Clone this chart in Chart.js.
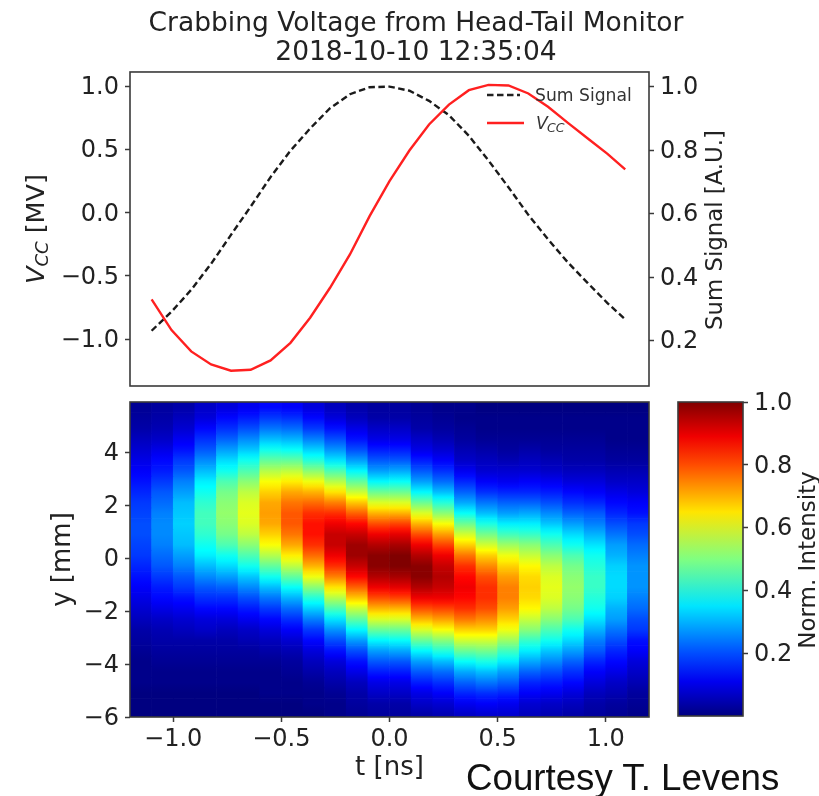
<!DOCTYPE html>
<html><head><meta charset="utf-8">
<style>
html,body{margin:0;padding:0;background:#fff;width:819px;height:796px;overflow:hidden}
.layer{position:absolute;left:0;top:0;width:819px;height:796px}
canvas{position:absolute;left:0;top:0;filter:blur(0.45px)}
#courtesy{position:absolute;left:466px;top:758px;font:36.7px "Liberation Sans",Arial,sans-serif;color:#111;white-space:nowrap;line-height:40px}
</style>
<script src="https://cdn.jsdelivr.net/npm/chart.js@4/dist/chart.umd.min.js"></script>
</head><body>
<div class="layer"><canvas id="top" width="819" height="796"></canvas></div>
<div class="layer"><canvas id="heat" width="819" height="796"></canvas></div>
<div class="layer"><canvas id="bar" width="819" height="796"></canvas></div>
<div id="courtesy">Courtesy T. Levens</div>
<script>
const titleLines=["Crabbing Voltage from Head-Tail Monitor","2018-10-10 12:35:04"];
const lineTimes=[-1.1,-1.008,-0.917,-0.825,-0.733,-0.642,-0.55,-0.458,-0.367,-0.275,-0.183,-0.092,0,0.092,0.183,0.275,0.367,0.458,0.55,0.642,0.733,0.825,0.917,1.008,1.09];
const vccValues=[-0.686,-0.929,-1.098,-1.201,-1.251,-1.243,-1.169,-1.03,-0.831,-0.594,-0.33,-0.027,0.25,0.493,0.699,0.857,0.971,1.013,1.008,0.945,0.839,0.712,0.588,0.467,0.343];
const sumValues=[0.231,0.291,0.36,0.442,0.533,0.622,0.715,0.798,0.868,0.932,0.976,0.998,1.0,0.987,0.955,0.91,0.845,0.767,0.683,0.596,0.519,0.446,0.381,0.318,0.267];
const vccTicks=[-1,-0.5,0,0.5,1];
const sumTicks=[0.2,0.4,0.6,0.8,1];
const timeTicks=[-1,-0.5,0,0.5,1];
const yTicks=[-6,-4,-2,0,2,4];
const cbTicks=[0.2,0.4,0.6,0.8,1];
const cellTimes=[-1.15,-1.05,-0.95,-0.85,-0.75,-0.65,-0.55,-0.45,-0.35,-0.25,-0.15,-0.05,0.05,0.15,0.25,0.35,0.45,0.55,0.65,0.75,0.85,0.95,1.05,1.15];
const cellRows=[5.7,5.3,4.9,4.5,4.1,3.7,3.3,2.9,2.5,2.1,1.7,1.3,0.9,0.5,0.1,-0.3,-0.7,-1.1,-1.5,-1.9,-2.3,-2.7,-3.1,-3.5,-3.9,-4.3,-4.7,-5.1,-5.5,-5.9];
const intensityByTime=[
[.02,.03,.04,.06,.08,.10,.12,.14,.16,.18,.19,.20,.20,.19,.18,.16,.14,.12,.10,.08,.06,.04,.03,.02,.01,.01,.01,0,0,0],
[.03,.04,.05,.07,.10,.13,.15,.18,.21,.23,.25,.26,.26,.25,.23,.21,.18,.15,.13,.10,.07,.05,.04,.03,.02,.01,.01,0,0,0],
[.04,.06,.08,.11,.14,.18,.21,.25,.28,.31,.32,.33,.32,.31,.28,.25,.21,.18,.14,.11,.08,.06,.04,.03,.02,.01,.01,0,0,0],
[.07,.09,.13,.17,.21,.26,.31,.36,.39,.42,.44,.44,.42,.39,.36,.31,.26,.21,.17,.13,.09,.07,.04,.03,.02,.01,.01,0,0,0],
[.09,.13,.17,.22,.28,.34,.39,.45,.49,.51,.52,.51,.49,.45,.39,.34,.28,.22,.17,.13,.09,.06,.04,.03,.02,.01,.01,0,0,0],
[.11,.15,.20,.26,.32,.39,.45,.51,.56,.59,.60,.59,.56,.51,.45,.39,.32,.26,.20,.15,.11,.07,.05,.03,.02,.01,.01,0,0,0],
[.13,.18,.24,.31,.39,.47,.55,.62,.67,.71,.72,.71,.67,.62,.55,.47,.39,.31,.24,.18,.13,.09,.06,.04,.02,.01,.01,.01,0,0],
[.12,.17,.23,.30,.38,.47,.56,.64,.71,.76,.79,.79,.76,.71,.64,.56,.47,.38,.30,.23,.17,.12,.08,.05,.03,.02,.01,.01,0,0],
[.09,.13,.18,.25,.33,.41,.51,.61,.70,.77,.83,.86,.86,.83,.77,.70,.61,.51,.41,.33,.25,.18,.13,.09,.06,.04,.02,.01,.01,0],
[.06,.09,.14,.20,.27,.35,.45,.55,.65,.75,.83,.89,.93,.93,.89,.83,.75,.65,.55,.45,.35,.27,.20,.14,.09,.06,.04,.02,.01,.01],
[.04,.06,.10,.14,.20,.28,.37,.47,.57,.68,.78,.87,.93,.97,.97,.93,.87,.78,.68,.57,.47,.37,.28,.20,.14,.10,.06,.04,.03,.02],
[.03,.04,.07,.10,.15,.21,.28,.37,.48,.59,.70,.80,.89,.95,.99,.99,.95,.89,.80,.70,.59,.48,.37,.28,.21,.15,.10,.07,.04,.03],
[.03,.04,.07,.10,.15,.21,.29,.38,.48,.59,.70,.81,.90,.96,1.0,1.0,.96,.90,.81,.70,.59,.48,.38,.29,.21,.15,.10,.07,.04,.03],
[.02,.03,.04,.07,.10,.15,.21,.28,.37,.48,.59,.70,.80,.89,.95,.99,.99,.95,.89,.80,.70,.59,.48,.37,.28,.21,.15,.10,.07,.04],
[.01,.02,.03,.05,.08,.12,.17,.23,.31,.41,.51,.62,.72,.81,.89,.93,.95,.93,.89,.81,.72,.62,.51,.41,.31,.23,.17,.12,.08,.05],
[.01,.01,.02,.03,.05,.07,.11,.16,.22,.29,.38,.48,.58,.67,.76,.83,.87,.89,.87,.83,.76,.67,.58,.48,.38,.29,.22,.16,.11,.07],
[0,.01,.01,.02,.04,.06,.08,.12,.17,.24,.31,.40,.49,.58,.67,.74,.80,.83,.83,.80,.74,.67,.58,.49,.40,.31,.24,.17,.12,.08],
[0,.01,.01,.02,.03,.05,.08,.11,.16,.22,.28,.36,.44,.53,.61,.67,.72,.75,.75,.72,.67,.61,.53,.44,.36,.28,.22,.16,.11,.08],
[0,.01,.01,.02,.04,.06,.08,.12,.16,.22,.29,.36,.43,.51,.57,.63,.66,.67,.66,.63,.57,.51,.43,.36,.29,.22,.16,.12,.08,.06],
[0,.01,.01,.02,.03,.05,.07,.11,.15,.20,.26,.32,.39,.45,.51,.56,.59,.60,.59,.56,.51,.45,.39,.32,.26,.20,.15,.11,.07,.05],
[0,.01,.01,.02,.03,.04,.06,.09,.13,.17,.22,.28,.34,.39,.45,.49,.51,.52,.51,.49,.45,.39,.34,.28,.22,.17,.13,.09,.06,.04],
[0,.01,.01,.02,.03,.04,.06,.09,.12,.16,.21,.25,.30,.35,.39,.41,.43,.43,.41,.39,.35,.30,.25,.21,.16,.12,.09,.06,.04,.03],
[0,.01,.01,.01,.02,.03,.05,.07,.10,.13,.16,.20,.24,.28,.30,.33,.34,.34,.33,.30,.28,.24,.20,.16,.13,.10,.07,.05,.03,.02],
[0,.01,.01,.01,.02,.03,.05,.07,.09,.12,.14,.18,.20,.23,.25,.27,.27,.27,.25,.23,.20,.18,.14,.12,.09,.07,.05,.03,.02,.01]
];

const FONT='"DejaVu Sans"';
const TICK=24, INK='#222', EDGE='#3a3a3a';
const clip=v=>Math.max(0,Math.min(1,v));
const jet=v=>{const c=k=>Math.round(255*clip(1.5-Math.abs(4*v-k)));return `rgb(${c(3)},${c(2)},${c(1)})`;};
const fmt=d=>v=>{const s=Math.abs(v).toFixed(d);return v<0?'\u2212'+s:s;};
const fix=(list)=>s=>{s.ticks=list.map(value=>({value}));};
const tickFont={family:FONT,size:TICK};
const baseTicks=(d,p)=>({color:INK,font:tickFont,autoSkip:false,maxRotation:0,callback:fmt(d),padding:p===undefined?6:p});
const yAxisTicks=d=>({...baseTicks(d),labelOffset:1.5});
const marks={display:true,drawOnChartArea:false,drawTicks:true,tickLength:5,tickWidth:1.5,tickColor:EDGE};

const frame={id:'frame',afterDraw(c){const a=c.chartArea,g=c.ctx;g.save();g.strokeStyle=EDGE;g.lineWidth=1.6;g.strokeRect(a.left,a.top,a.width,a.height);g.restore();}};
function runs(g,parts,x,y,rot){
  g.save();g.translate(x,y);g.rotate(rot||0);g.textBaseline='alphabetic';g.textAlign='left';
  let w=0;parts.forEach(p=>{g.font=p.font;w+=g.measureText(p.t).width;});
  let cx=-w/2;parts.forEach(p=>{g.font=p.font;g.fillStyle=INK;g.fillText(p.t,cx,p.dy||0);cx+=g.measureText(p.t).width;});
  g.restore();
}
const R=-Math.PI/2;
const topLabels={id:'topLabels',afterDraw(c){const g=c.ctx;
  runs(g,[{t:'V',font:`italic 25.5px ${FONT}`},{t:'CC',font:`italic 18px ${FONT}`,dy:4},{t:' [MV]',font:`25.5px ${FONT}`}],43.5,229,R);
  runs(g,[{t:'Sum Signal [A.U.]',font:`22.8px ${FONT}`}],722,230,R);
  g.save();g.lineWidth=2.4;g.strokeStyle='#222';g.setLineDash([6.5,3.5]);g.beginPath();g.moveTo(487,95);g.lineTo(520,95);g.stroke();
  g.setLineDash([]);g.strokeStyle='#ff2020';g.beginPath();g.moveTo(487,123);g.lineTo(524,123);g.stroke();g.restore();
  g.save();g.fillStyle='#333';g.textBaseline='alphabetic';g.font=`17.2px ${FONT}`;g.fillText('Sum Signal',535,101);
  g.font=`italic 17.2px ${FONT}`;g.fillText('V',536,129);g.font=`italic 12.5px ${FONT}`;g.fillText('CC',547,132);g.restore();
}};
const barLabels={id:'barLabels',afterDraw(c){runs(c.ctx,[{t:'Norm. Intensity',font:`23px ${FONT}`}],815,560,R);}};

function cellFill(ctx){
  const ch=ctx.chart;if(!ch.chartArea)return '#000';
  const s=ch.scales.y,r=ctx.datasetIndex,col=intensityByTime[ctx.dataIndex];
  const yc=cellRows[r],v=col[r],up=r>0?col[r-1]:v,dn=r<col.length-1?col[r+1]:v;
  const g=ch.ctx.createLinearGradient(0,s.getPixelForValue(yc+0.2),0,s.getPixelForValue(yc-0.2));
  g.addColorStop(0,jet((v+up)/2));g.addColorStop(0.5,jet(v));g.addColorStop(1,jet((v+dn)/2));
  return g;
}

new Chart(document.getElementById('top'),{type:'line',
 data:{datasets:[
  {label:'Sum Signal',yAxisID:'yS',order:2,borderColor:'#1a1a1a',borderWidth:2.4,borderDash:[6.5,3.5],pointRadius:0,tension:0,data:lineTimes.map((x,i)=>({x,y:sumValues[i]}))},
  {label:'V_CC',yAxisID:'yV',order:1,borderColor:'#ff2020',borderWidth:2.4,pointRadius:0,tension:0,data:lineTimes.map((x,i)=>({x,y:vccValues[i]}))}
 ]},
 options:{responsive:false,animation:false,events:[],
  layout:{padding:{left:55,right:42,top:0,bottom:410}},
  plugins:{legend:{display:false},tooltip:{enabled:false},
   title:{display:true,text:titleLines,color:INK,fullSize:true,font:{family:FONT,size:26.5,weight:'normal',lineHeight:1.094},padding:{top:10,bottom:4}}},
  scales:{
   x:{type:'linear',min:-1.2,max:1.2,display:false},
   yV:{position:'left',min:-1.372,max:1.115,afterBuildTicks:fix(vccTicks),ticks:yAxisTicks(1),grid:marks,border:{display:false},afterFit:s=>{s.width=75;}},
   yS:{position:'right',min:0.057,max:1.046,afterBuildTicks:fix(sumTicks),ticks:yAxisTicks(1),grid:marks,border:{display:false},afterFit:s=>{s.width=128;}}
  }},plugins:[frame,topLabels]});

new Chart(document.getElementById('heat'),{type:'bar',
 data:{datasets:cellRows.map((yc,r)=>({
   label:'y '+yc,grouped:false,barPercentage:1,categoryPercentage:1,borderWidth:0,
   data:cellTimes.map(x=>({x,y:[yc-0.2,yc+0.2]})),
   backgroundColor:cellFill
 }))},
 options:{responsive:false,animation:false,events:[],
  layout:{padding:{left:50,right:170,top:402,bottom:15}},
  plugins:{legend:{display:false},tooltip:{enabled:false}},
  scales:{
   x:{type:'linear',offset:false,min:-1.2,max:1.2,afterBuildTicks:fix(timeTicks),ticks:baseTicks(1,3),grid:{...marks,offset:false},border:{display:false},
      title:{display:true,text:'t [ns]',color:INK,font:{family:FONT,size:26,lineHeight:1},padding:0},afterFit:s=>{s.height=64;}},
   y:{min:-6,max:5.9,beginAtZero:false,afterBuildTicks:fix(yTicks),ticks:yAxisTicks(0),grid:marks,border:{display:false},
      title:{display:true,text:'y [mm]',color:INK,font:{family:FONT,size:26,lineHeight:1},padding:0},afterFit:s=>{s.width=80;}}
  }},plugins:[frame]});

new Chart(document.getElementById('bar'),{type:'bar',
 data:{labels:['Norm. Intensity'],datasets:[{label:'Norm. Intensity',barPercentage:1,categoryPercentage:1,borderWidth:0,inflateAmount:0,data:[[0,1]],
   backgroundColor(ctx){const a=ctx.chart.chartArea;if(!a)return '#000';const g=ctx.chart.ctx.createLinearGradient(0,a.bottom,0,a.top);
     [0,.05,.11,.2,.35,.5,.65,.8,.89,.95,1].forEach(v=>g.addColorStop(v,jet(v)));return g;}}]},
 options:{responsive:false,animation:false,events:[],
  layout:{padding:{left:678,right:1,top:402,bottom:80}},
  plugins:{legend:{display:false},tooltip:{enabled:false}},
  scales:{
   x:{display:false},
   y:{position:'right',min:0,max:1,afterBuildTicks:fix(cbTicks),ticks:yAxisTicks(1),grid:marks,border:{display:false},afterFit:s=>{s.width=75;}}
  }},plugins:[frame,barLabels]});
</script>
</body></html>
